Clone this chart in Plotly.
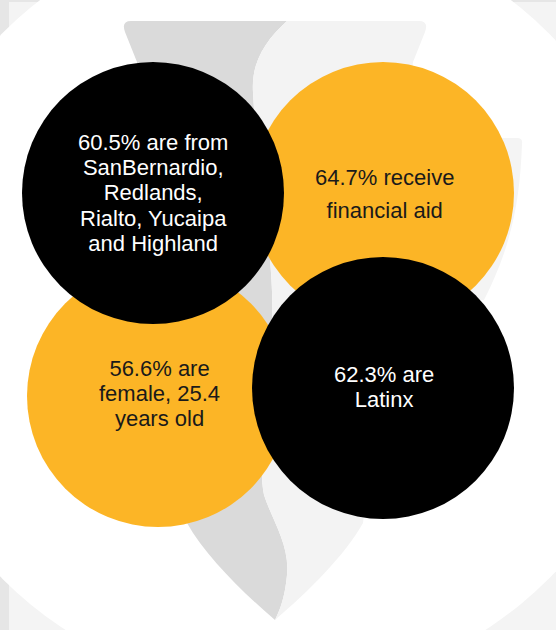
import plotly.graph_objects as go

# ---- data ----
stat_values = [60.5, 64.7, 56.6, 62.3]
stat_labels = [
    ["{v}% are from", "SanBernardio,", "Redlands,", "Rialto, Yucaipa", "and Highland"],
    ["{v}% receive", "financial aid"],
    ["{v}% are", "female, 25.4", "years old"],
    ["{v}% are", "Latinx"],
]

# ---- layout / style (positions in pixel space) ----
W, H = 556, 630
circle_centers = [(153, 193), (383, 193), (158, 396), (383, 388)]
circle_radius = 131
circle_colors = ["#000000", "#fcb526", "#fcb526", "#000000"]
text_colors = ["#ffffff", "#1a1a1a", "#1a1a1a", "#ffffff"]
text_center_y = [192.5, 193.5, 393.5, 386.5]
line_gap = [25.2, 33, 25.2, 25.2]   # px between lines
glyph_size = 22
text_x = [153, 384, 159, 384]
draw_order = [1, 2, 0, 3]  # oranges first, blacks on top

fig = go.Figure()
fig.add_trace(go.Scatter(x=[0, W], y=[0, H], mode="markers",
                         marker=dict(opacity=0), hoverinfo="skip", showlegend=False))

shapes = []
# light background panel with big white circle
shapes.append(dict(type="rect", x0=9, x1=W + 2, y0=2, y1=H + 2,
                   fillcolor="#f4f4f4", line=dict(width=0), layer="below"))
cx, cy, R = 275.5, 306, 386
shapes.append(dict(type="circle", x0=cx - R, x1=cx + R, y0=cy - R, y1=cy + R,
                   fillcolor="#ffffff", line=dict(width=0), layer="below"))

# faint right piece
shapes.append(dict(type="path",
                   path="M 470,138 L 517,138 Q 523,138 522,144 C 520,200 512,245 484,300 L 430,300 Z",
                   fillcolor="#f4f4f4", line=dict(width=0), layer="below"))

# funnel dark (left) part
dark_path = ("M 131,21 L 287,21 "
             "C 266,40 251,62 253,92 "
             "C 256,160 275,260 272,320 "
             "C 268,400 257,460 264,495 "
             "C 272,520 290,545 287,575 "
             "C 285,597 280,610 275,620 "
             "C 240,590 205,555 187,523 "
             "L 137,62 L 125,32 Q 121,21 131,21 Z")
shapes.append(dict(type="path", path=dark_path, fillcolor="#dadada",
                   line=dict(width=0), layer="below"))
# funnel light (right) part
light_path = ("M 287,21 L 419,21 Q 429,21 425,32 L 413,62 L 363,523 "
              "C 345,555 310,590 275,620 "
              "C 280,610 285,597 287,575 "
              "C 290,545 272,520 264,495 "
              "C 257,460 268,400 272,320 "
              "C 275,260 256,160 253,92 "
              "C 251,62 266,40 287,21 Z")
shapes.append(dict(type="path", path=light_path, fillcolor="#f3f3f3",
                   line=dict(width=0), layer="below"))

for i in draw_order:
    x0, y0 = circle_centers[i]
    shapes.append(dict(type="circle", x0=x0 - circle_radius, x1=x0 + circle_radius,
                       y0=y0 - circle_radius, y1=y0 + circle_radius,
                       fillcolor=circle_colors[i], line=dict(width=0), layer="above"))

annotations = []
for i, lines in enumerate(stat_labels):
    txt = "<br>".join(
        '<span style="font-size:%dpx">%s</span>' % (glyph_size, l.format(v=stat_values[i]))
        for l in lines)
    annotations.append(dict(
        x=text_x[i], y=text_center_y[i], xref="x", yref="y",
        text=txt, showarrow=False, align="center",
        xanchor="center", yanchor="middle",
        font=dict(family="Arial, Liberation Sans, sans-serif", size=line_gap[i] / 1.3,
                  color=text_colors[i])))

fig.update_layout(
    width=W, height=H, margin=dict(l=0, r=0, t=0, b=0),
    paper_bgcolor="#e6e6e6", plot_bgcolor="rgba(0,0,0,0)",
    xaxis=dict(range=[0, W], visible=False, fixedrange=True),
    yaxis=dict(range=[H, 0], visible=False, fixedrange=True),
    shapes=shapes, annotations=annotations, showlegend=False,
)
fig.write_html("out.html", config={"displayModeBar": False},
               post_script="document.body.style.margin='0';document.body.style.overflow='hidden';document.body.style.background='#e6e6e6';")
